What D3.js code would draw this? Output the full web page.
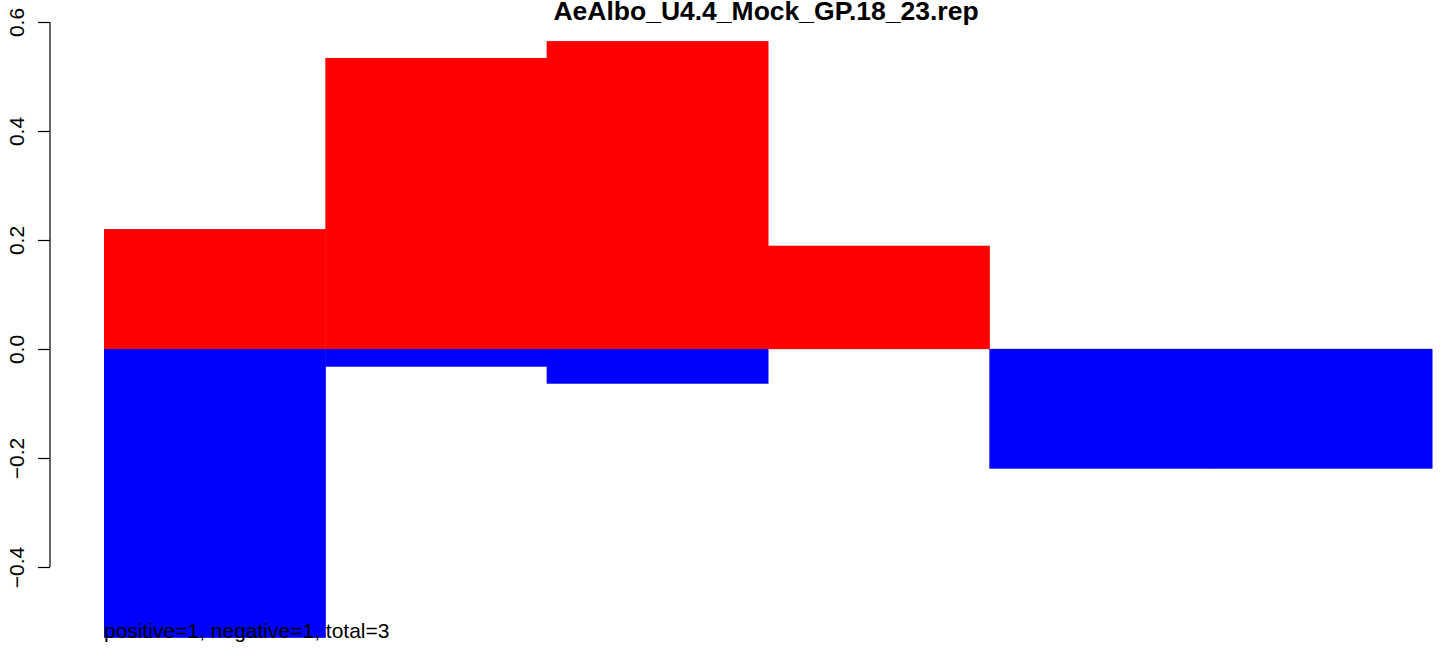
<!DOCTYPE html>
<html>
<head>
<meta charset="utf-8">
<script src="https://cdn.jsdelivr.net/npm/d3@7"></script>
<style>
  html, body { margin: 0; padding: 0; background: #fff; }
  svg { display: block; font-family: "Liberation Sans", Arial, Helvetica, sans-serif; }
</style>
</head>
<body>
<svg id="chart" width="1444" height="650"></svg>
<script>
// ---- data ----
const chartTitle = "AeAlbo_U4.4_Mock_GP.18_23.rep";
const footnote = "positive=1, negative=1, total=3";
const segments = [1, 2, 3, 4, 5, 6];
const positiveValues = [0.220, 0.534, 0.565, 0.1895, 0, 0];
const negativeValues = [-0.530, -0.0325, -0.0637, 0, -0.2196, -0.2196];
const yTicks = [-0.4, -0.2, 0.0, 0.2, 0.4, 0.6];

// ---- layout ----
const svg = d3.select("#chart");
const x = d3.scaleBand().domain(segments).range([104, 1432]).padding(0);
const y = d3.scaleLinear().domain([-0.4, 0.6]).range([567.0, 22.0]);

// zero line (drawn beneath bars)
svg.append("line")
  .attr("x1", 104).attr("x2", 1432)
  .attr("y1", y(0)).attr("y2", y(0))
  .attr("stroke", "#bebebe").attr("stroke-width", 1.2);

// positive bars
svg.append("g").selectAll("rect")
  .data(segments.map((s, i) => ({ s, v: positiveValues[i] })).filter(d => d.v > 0))
  .join("rect")
  .attr("x", d => x(d.s))
  .attr("width", x.bandwidth() + 0.5)
  .attr("y", d => y(d.v))
  .attr("height", d => y(0) - y(d.v))
  .attr("fill", "#ff0000");

// negative bars
svg.append("g").selectAll("rect")
  .data(segments.map((s, i) => ({ s, v: negativeValues[i] })).filter(d => d.v < 0))
  .join("rect")
  .attr("x", d => x(d.s))
  .attr("width", x.bandwidth() + 0.5)
  .attr("y", y(0))
  .attr("height", d => y(d.v) - y(0))
  .attr("fill", "#0000ff");

// y axis
const axis = d3.axisLeft(y).tickValues(yTicks)
  .tickFormat(d => d3.format(".1f")(d).replace("-", "\u2212"))
  .tickSize(12).tickPadding(6);
const gAxis = svg.append("g").attr("transform", "translate(50,0)").call(axis);
gAxis.select(".domain").remove();
gAxis.append("line").attr("x1", 0).attr("x2", 0)
  .attr("y1", y(0.6)).attr("y2", y(-0.4)).attr("stroke", "#000").attr("stroke-width", 1.2);
gAxis.selectAll(".tick line").attr("stroke", "#000").attr("stroke-width", 1.2);
gAxis.selectAll(".tick text")
  .attr("font-size", 21).attr("fill", "#000")
  .attr("x", 0).attr("dy", null)
  .attr("text-anchor", "middle")
  .attr("transform", "translate(-34,0) rotate(-90)")
  .attr("dominant-baseline", "central")
  .attr("y", 0);

// title
svg.append("text")
  .attr("x", 766).attr("y", 20)
  .attr("text-anchor", "middle")
  .attr("font-size", 26.5).attr("font-weight", "bold")
  .text(chartTitle);

// footnote
svg.append("text")
  .attr("x", 104).attr("y", 638)
  .attr("font-size", 21)
  .text(footnote);
</script>
</body>
</html>
